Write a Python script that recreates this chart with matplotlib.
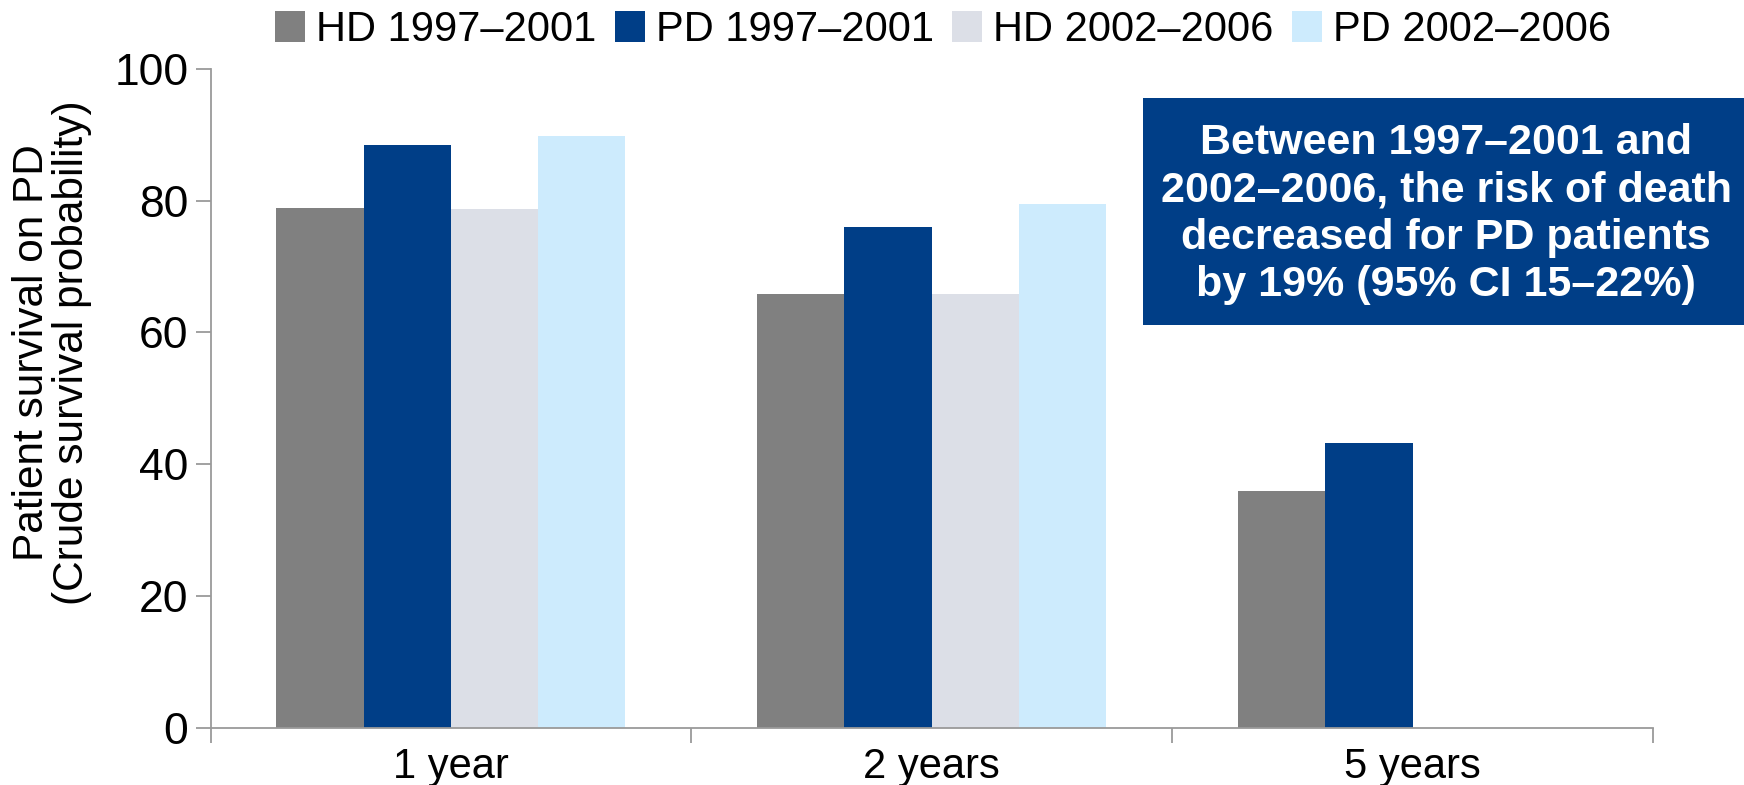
import numpy as np
import matplotlib
matplotlib.use("Agg")
import matplotlib.pyplot as plt
from matplotlib.patches import Rectangle, Patch

plt.rcParams["font.family"] = ["Liberation Sans", "DejaVu Sans"]

# Crude patient survival (%) by time on dialysis and era
categories = ["1 year", "2 years", "5 years"]
series_labels = ["HD 1997\u20132001", "PD 1997\u20132001", "HD 2002\u20132006", "PD 2002\u20132006"]
hd_1997_2001 = [78.9, 65.9, 36.0]
pd_1997_2001 = [88.4, 76.0, 43.2]
hd_2002_2006 = [78.8, 65.9, np.nan]
pd_2002_2006 = [89.8, 79.5, np.nan]
y_ticks = [0, 20, 40, 60, 80, 100]

series_values = [hd_1997_2001, pd_1997_2001, hd_2002_2006, pd_2002_2006]
series_colors = ["#808080", "#003E87", "#DCDFE7", "#CDEBFD"]

note = ("Between 1997\u20132001 and\n2002\u20132006, the risk of death\n"
        "decreased for PD patients\nby 19% (95% CI 15\u201322%)")

W, H = 1744, 785
fig = plt.figure(figsize=(W / 100, H / 100), dpi=100)
ax = fig.add_axes([210.5 / W, 1 - 727.8 / H, (1653 - 210.5) / W, (727.8 - 68.8) / H])

x = np.arange(len(categories))
bar_w = 0.1815
for i, (vals, col) in enumerate(zip(series_values, series_colors)):
    ax.bar(x + (i - 1.5) * bar_w, vals, width=bar_w, color=col, linewidth=0, zorder=2)

ax.set_xlim(-0.5, len(categories) - 0.5)
ax.set_ylim(0, 100)
ax.set_yticks(y_ticks)
ax.set_yticklabels([str(t) for t in y_ticks])

# category separators as major ticks, names as minor tick labels
ax.set_xticks(np.arange(len(categories) + 1) - 0.5)
ax.set_xticklabels([])
ax.set_xticks(x, minor=True)
ax.set_xticklabels(categories, minor=True)

axis_col = "#9A9A9A"
for side in ["top", "right"]:
    ax.spines[side].set_visible(False)
for side in ["left", "bottom"]:
    ax.spines[side].set_color(axis_col)
    ax.spines[side].set_linewidth(1.3)

ax.tick_params(axis="y", which="major", length=11, width=1.3, color=axis_col,
               labelsize=32, pad=5, labelcolor="black")
ax.tick_params(axis="x", which="major", length=10.5, width=1.3, color=axis_col)
ax.tick_params(axis="x", which="minor", length=0, labelsize=30, pad=14, labelcolor="black")

fig.text(52 / W, 1 - 353 / H, "Patient survival on PD\n(Crude survival probability)",
         rotation=90, ha="center", va="center", multialignment="center",
         fontsize=30.5, linespacing=1.02)

handles = [Patch(facecolor=c, edgecolor="none") for c in series_colors]
fig.legend(handles, series_labels, loc="center", bbox_to_anchor=(943 / W, 1 - 30 / H),
           ncol=4, frameon=False, fontsize=30, handlelength=0.72, handleheight=0.8,
           handletextpad=0.26, columnspacing=0.45, borderaxespad=0, borderpad=0)

fig.patches.append(Rectangle((1143 / W, 1 - 325 / H), (W - 1143) / W, (325 - 98) / H,
                             transform=fig.transFigure, facecolor="#003E87",
                             edgecolor="none", zorder=3))
fig.text(1446 / W, 1 - 214 / H, note, ha="center", va="center", color="white",
         fontweight="bold", fontsize=31, linespacing=1.24, zorder=4)

fig.savefig("out.png", dpi=100, facecolor="white")
